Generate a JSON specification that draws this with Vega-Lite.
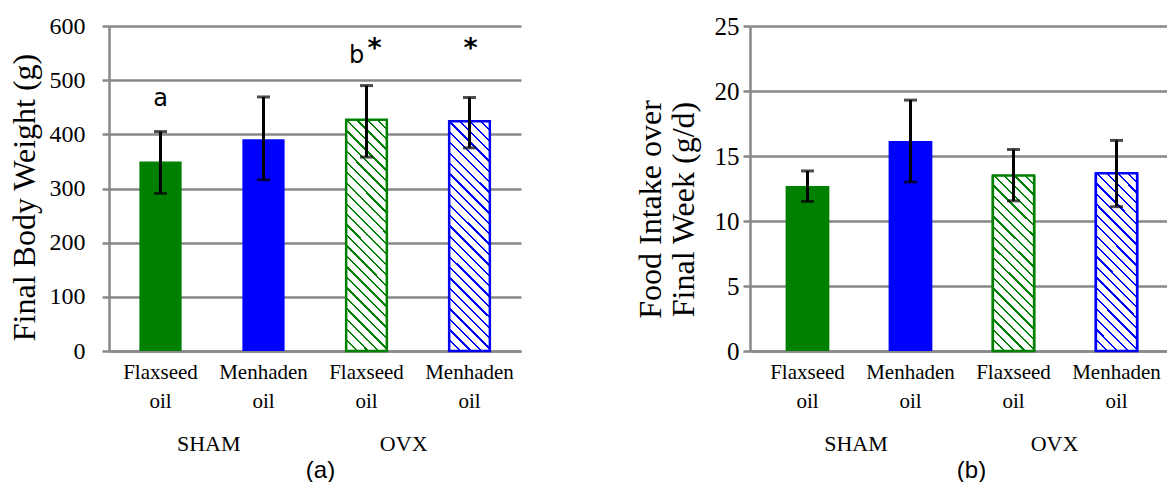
{
  "$schema": "https://vega.github.io/schema/vega-lite/v6.json",
  "background": "white",
  "padding": {"left": 8, "top": 14, "right": 0, "bottom": 0},
  "spacing": 113,
  "config": {
    "view": {"stroke": null},
    "font": "Liberation Serif",
    "axis": {"labelFont": "Liberation Serif", "labelColor": "black", "titleFont": "Liberation Serif", "titleColor": "black", "titleFontWeight": "normal"},
    "axisY": {"grid": true, "gridColor": "#888888", "gridWidth": 2.5, "domainColor": "#888888", "domainWidth": 2.5, "tickColor": "#888888", "tickWidth": 2.5, "tickSize": 7, "labelFontSize": 24, "labelAlign": "right", "labelBaseline": "middle", "titleFontSize": 32},
    "axisX": {"domainColor": "#888888", "domainWidth": 2.5, "ticks": false, "tickSize": 0, "grid": false, "labelFontSize": 21, "labelLineHeight": 29, "labelPadding": 10, "labelAngle": 0}
  },
  "datasets": {
    "bw": [
      {"cat": "SHAM|Flaxseed oil", "group": "SHAM", "oil": "Flaxseed", "mean": 350, "lo": 291, "hi": 405},
      {"cat": "SHAM|Menhaden oil", "group": "SHAM", "oil": "Menhaden", "mean": 391, "lo": 316, "hi": 469},
      {"cat": "OVX|Flaxseed oil", "group": "OVX", "oil": "Flaxseed", "mean": 427, "lo": 358, "hi": 490},
      {"cat": "OVX|Menhaden oil", "group": "OVX", "oil": "Menhaden", "mean": 424, "lo": 375, "hi": 468}
    ],
    "fi": [
      {"cat": "SHAM|Flaxseed oil", "group": "SHAM", "oil": "Flaxseed", "mean": 12.7, "lo": 11.5, "hi": 13.85},
      {"cat": "SHAM|Menhaden oil", "group": "SHAM", "oil": "Menhaden", "mean": 16.15, "lo": 13.0, "hi": 19.3},
      {"cat": "OVX|Flaxseed oil", "group": "OVX", "oil": "Flaxseed", "mean": 13.5, "lo": 11.55, "hi": 15.5},
      {"cat": "OVX|Menhaden oil", "group": "OVX", "oil": "Menhaden", "mean": 13.67, "lo": 11.1, "hi": 16.2}
    ],
    "ann": [
      {"cat": "SHAM|Flaxseed oil", "label": "a", "at": 452},
      {"cat": "OVX|Flaxseed oil", "label": "b", "at": 532},
      {"cat": "OVX|Flaxseed oil", "label": "*", "at": 543},
      {"cat": "OVX|Menhaden oil", "label": "*", "at": 543}
    ]
  },
  "hconcat": [
    {
      "width": 412,
      "height": 325,
      "layer": [
        {
          "data": {"name": "bw"},
          "encoding": {
            "x": {
              "field": "cat", "type": "nominal", "title": null,
              "sort": ["SHAM|Flaxseed oil", "SHAM|Menhaden oil", "OVX|Flaxseed oil", "OVX|Menhaden oil"],
              "scale": {"paddingInner": 0, "paddingOuter": 0},
              "axis": {"orient": "bottom", "labelExpr": "split(split(datum.label, '|')[1], ' ')"}
            }
          },
          "layer": [
            {
              "mark": {"type": "bar", "width": {"band": 0.41}},
              "encoding": {
                "y": {"field": "mean", "type": "quantitative", "title": "Final Body Weight (g)", "scale": {"domain": [0, 600], "nice": false},
                  "axis": {"values": [0, 100, 200, 300, 400, 500, 600], "labelPadding": 17, "labelAlign": "right", "titlePadding": 8, "titleY": 171}},
                "fill": {"field": "oil", "type": "nominal", "scale": {"domain": ["Flaxseed", "Menhaden"], "range": ["#008000", "#0000ff"]}, "legend": null}
              }
            },
            {
              "transform": [{"filter": "datum.group === 'OVX'"}],
              "mark": {"type": "bar", "width": {"band": 0.395}, "strokeWidth": 2.5,
                "fill": {"gradient": "linear", "x1": 1, "y1": 0, "x2": 0.7984, "y2": 1.1411, "stops": [
                  {"offset": 0, "color": "#fff"}, {"offset": 0.03, "color": "#fff"}, {"offset": 0.03, "color": "rgba(255,255,255,0)"}, {"offset": 0.0385, "color": "rgba(255,255,255,0)"},
                  {"offset": 0.0385, "color": "#fff"}, {"offset": 0.0685, "color": "#fff"}, {"offset": 0.0685, "color": "rgba(255,255,255,0)"}, {"offset": 0.0769, "color": "rgba(255,255,255,0)"},
                  {"offset": 0.0769, "color": "#fff"}, {"offset": 0.1069, "color": "#fff"}, {"offset": 0.1069, "color": "rgba(255,255,255,0)"}, {"offset": 0.1154, "color": "rgba(255,255,255,0)"},
                  {"offset": 0.1154, "color": "#fff"}, {"offset": 0.1454, "color": "#fff"}, {"offset": 0.1454, "color": "rgba(255,255,255,0)"}, {"offset": 0.1538, "color": "rgba(255,255,255,0)"},
                  {"offset": 0.1538, "color": "#fff"}, {"offset": 0.1838, "color": "#fff"}, {"offset": 0.1838, "color": "rgba(255,255,255,0)"}, {"offset": 0.1923, "color": "rgba(255,255,255,0)"},
                  {"offset": 0.1923, "color": "#fff"}, {"offset": 0.2223, "color": "#fff"}, {"offset": 0.2223, "color": "rgba(255,255,255,0)"}, {"offset": 0.2308, "color": "rgba(255,255,255,0)"},
                  {"offset": 0.2308, "color": "#fff"}, {"offset": 0.2608, "color": "#fff"}, {"offset": 0.2608, "color": "rgba(255,255,255,0)"}, {"offset": 0.2692, "color": "rgba(255,255,255,0)"},
                  {"offset": 0.2692, "color": "#fff"}, {"offset": 0.2992, "color": "#fff"}, {"offset": 0.2992, "color": "rgba(255,255,255,0)"}, {"offset": 0.3077, "color": "rgba(255,255,255,0)"},
                  {"offset": 0.3077, "color": "#fff"}, {"offset": 0.3377, "color": "#fff"}, {"offset": 0.3377, "color": "rgba(255,255,255,0)"}, {"offset": 0.3462, "color": "rgba(255,255,255,0)"},
                  {"offset": 0.3462, "color": "#fff"}, {"offset": 0.3762, "color": "#fff"}, {"offset": 0.3762, "color": "rgba(255,255,255,0)"}, {"offset": 0.3846, "color": "rgba(255,255,255,0)"},
                  {"offset": 0.3846, "color": "#fff"}, {"offset": 0.4146, "color": "#fff"}, {"offset": 0.4146, "color": "rgba(255,255,255,0)"}, {"offset": 0.4231, "color": "rgba(255,255,255,0)"},
                  {"offset": 0.4231, "color": "#fff"}, {"offset": 0.4531, "color": "#fff"}, {"offset": 0.4531, "color": "rgba(255,255,255,0)"}, {"offset": 0.4615, "color": "rgba(255,255,255,0)"},
                  {"offset": 0.4615, "color": "#fff"}, {"offset": 0.4915, "color": "#fff"}, {"offset": 0.4915, "color": "rgba(255,255,255,0)"}, {"offset": 0.5, "color": "rgba(255,255,255,0)"},
                  {"offset": 0.5, "color": "#fff"}, {"offset": 0.53, "color": "#fff"}, {"offset": 0.53, "color": "rgba(255,255,255,0)"}, {"offset": 0.5385, "color": "rgba(255,255,255,0)"},
                  {"offset": 0.5385, "color": "#fff"}, {"offset": 0.5685, "color": "#fff"}, {"offset": 0.5685, "color": "rgba(255,255,255,0)"}, {"offset": 0.5769, "color": "rgba(255,255,255,0)"},
                  {"offset": 0.5769, "color": "#fff"}, {"offset": 0.6069, "color": "#fff"}, {"offset": 0.6069, "color": "rgba(255,255,255,0)"}, {"offset": 0.6154, "color": "rgba(255,255,255,0)"},
                  {"offset": 0.6154, "color": "#fff"}, {"offset": 0.6454, "color": "#fff"}, {"offset": 0.6454, "color": "rgba(255,255,255,0)"}, {"offset": 0.6538, "color": "rgba(255,255,255,0)"},
                  {"offset": 0.6538, "color": "#fff"}, {"offset": 0.6838, "color": "#fff"}, {"offset": 0.6838, "color": "rgba(255,255,255,0)"}, {"offset": 0.6923, "color": "rgba(255,255,255,0)"},
                  {"offset": 0.6923, "color": "#fff"}, {"offset": 0.7223, "color": "#fff"}, {"offset": 0.7223, "color": "rgba(255,255,255,0)"}, {"offset": 0.7308, "color": "rgba(255,255,255,0)"},
                  {"offset": 0.7308, "color": "#fff"}, {"offset": 0.7608, "color": "#fff"}, {"offset": 0.7608, "color": "rgba(255,255,255,0)"}, {"offset": 0.7692, "color": "rgba(255,255,255,0)"},
                  {"offset": 0.7692, "color": "#fff"}, {"offset": 0.7992, "color": "#fff"}, {"offset": 0.7992, "color": "rgba(255,255,255,0)"}, {"offset": 0.8077, "color": "rgba(255,255,255,0)"},
                  {"offset": 0.8077, "color": "#fff"}, {"offset": 0.8377, "color": "#fff"}, {"offset": 0.8377, "color": "rgba(255,255,255,0)"}, {"offset": 0.8462, "color": "rgba(255,255,255,0)"},
                  {"offset": 0.8462, "color": "#fff"}, {"offset": 0.8762, "color": "#fff"}, {"offset": 0.8762, "color": "rgba(255,255,255,0)"}, {"offset": 0.8846, "color": "rgba(255,255,255,0)"},
                  {"offset": 0.8846, "color": "#fff"}, {"offset": 0.9146, "color": "#fff"}, {"offset": 0.9146, "color": "rgba(255,255,255,0)"}, {"offset": 0.9231, "color": "rgba(255,255,255,0)"},
                  {"offset": 0.9231, "color": "#fff"}, {"offset": 0.9531, "color": "#fff"}, {"offset": 0.9531, "color": "rgba(255,255,255,0)"}, {"offset": 0.9615, "color": "rgba(255,255,255,0)"},
                  {"offset": 0.9615, "color": "#fff"}, {"offset": 0.9915, "color": "#fff"}, {"offset": 0.9915, "color": "rgba(255,255,255,0)"}, {"offset": 1, "color": "rgba(255,255,255,0)"}
                ]}},
              "encoding": {
                "y": {"field": "mean", "type": "quantitative", "title": "Final Body Weight (g)", "axis": {"labelPadding": 17, "labelAlign": "right"}},
                "stroke": {"field": "oil", "type": "nominal", "scale": {"domain": ["Flaxseed", "Menhaden"], "range": ["#008000", "#0000ff"]}, "legend": null}
              }
            },
            {
              "mark": {"type": "rule", "color": "black", "strokeWidth": 3},
              "encoding": {"y": {"field": "lo", "type": "quantitative", "title": "Final Body Weight (g)", "axis": {"labelPadding": 17, "labelAlign": "right"}}, "y2": {"field": "hi"}}
            },
            {
              "mark": {"type": "tick", "color": "black", "size": 13, "thickness": 3},
              "encoding": {"y": {"field": "lo", "type": "quantitative", "title": "Final Body Weight (g)", "axis": {"labelPadding": 17, "labelAlign": "right"}}}
            },
            {
              "mark": {"type": "tick", "color": "black", "size": 13, "thickness": 3},
              "encoding": {"y": {"field": "hi", "type": "quantitative", "title": "Final Body Weight (g)", "axis": {"labelPadding": 17, "labelAlign": "right"}}}
            },
            {
              "data": {"name": "ann"},
              "transform": [{"filter": "datum.label === 'a'"}],
              "mark": {"type": "text", "font": "DejaVu Sans", "fontSize": 24, "baseline": "alphabetic", "align": "center", "color": "black"},
              "encoding": {"y": {"field": "at", "type": "quantitative", "title": "Final Body Weight (g)", "axis": {"labelPadding": 17, "labelAlign": "right"}}, "text": {"field": "label"}}
            },
            {
              "data": {"name": "ann"},
              "transform": [{"filter": "datum.label === 'b'"}],
              "mark": {"type": "text", "font": "DejaVu Sans", "fontSize": 24, "baseline": "alphabetic", "align": "center", "dx": -10, "color": "black"},
              "encoding": {"y": {"field": "at", "type": "quantitative", "title": "Final Body Weight (g)", "axis": {"labelPadding": 17, "labelAlign": "right"}}, "text": {"field": "label"}}
            },
            {
              "data": {"name": "ann"},
              "transform": [{"filter": "datum.label === '*' && datum.cat === 'OVX|Flaxseed oil'"}],
              "mark": {"type": "text", "font": "DejaVu Sans", "fontWeight": "bold", "fontSize": 27, "baseline": "alphabetic", "align": "center", "dx": 8, "color": "black"},
              "encoding": {"y": {"field": "at", "type": "quantitative", "title": "Final Body Weight (g)", "axis": {"labelPadding": 17, "labelAlign": "right"}}, "text": {"field": "label"}}
            },
            {
              "data": {"name": "ann"},
              "transform": [{"filter": "datum.label === '*' && datum.cat === 'OVX|Menhaden oil'"}],
              "mark": {"type": "text", "font": "DejaVu Sans", "fontWeight": "bold", "fontSize": 27, "baseline": "alphabetic", "align": "center", "dx": 1, "color": "black"},
              "encoding": {"y": {"field": "at", "type": "quantitative", "title": "Final Body Weight (g)", "axis": {"labelPadding": 17, "labelAlign": "right"}}, "text": {"field": "label"}}
            }
          ]
        },
        {
          "data": {"name": "bw"},
          "mark": {"type": "rule", "opacity": 0},
          "encoding": {
            "x": {"field": "group", "type": "nominal", "sort": ["SHAM", "OVX"], "title": "(a)",
              "scale": {"paddingInner": 0, "paddingOuter": 0.0564, "align": 0.1},
              "axis": {"orient": "bottom", "domain": false, "ticks": false, "grid": false, "labelPadding": 82, "labelFont": "Liberation Serif", "labelFontSize": 22, "labelColor": "black", "labelAngle": 0, "titleFont": "Liberation Sans", "titleFontSize": 24, "titleFontWeight": "normal", "titleColor": "black", "titlePadding": 4, "titleX": 211}}
          }
        }
      ],
      "resolve": {"scale": {"x": "independent"}}
    },
    {
      "width": 418,
      "height": 325,
      "layer": [
        {
          "data": {"name": "fi"},
          "encoding": {
            "x": {
              "field": "cat", "type": "nominal", "title": null,
              "sort": ["SHAM|Flaxseed oil", "SHAM|Menhaden oil", "OVX|Flaxseed oil", "OVX|Menhaden oil"],
              "scale": {"paddingInner": 0, "paddingOuter": 0.029, "align": 1},
              "axis": {"orient": "bottom", "labelExpr": "split(split(datum.label, '|')[1], ' ')"}
            }
          },
          "layer": [
            {
              "mark": {"type": "bar", "width": {"band": 0.425}},
              "encoding": {
                "y": {"field": "mean", "type": "quantitative", "title": ["Food Intake over", "Final Week (g/d)"], "scale": {"domain": [0, 25], "nice": false},
                  "axis": {"values": [0, 5, 10, 15, 20, 25], "labelPadding": 4, "labelAlign": "right", "labelFontSize": 25, "titleLineHeight": 33, "titlePadding": 14, "titleY": 183}},
                "fill": {"field": "oil", "type": "nominal", "scale": {"domain": ["Flaxseed", "Menhaden"], "range": ["#008000", "#0000ff"]}, "legend": null}
              }
            },
            {
              "transform": [{"filter": "datum.group === 'OVX'"}],
              "mark": {"type": "bar", "width": {"band": 0.4}, "strokeWidth": 2.5,
                "fill": {"gradient": "linear", "x1": 1, "y1": 0, "x2": 0.7271, "y2": 1.1697, "stops": [
                  {"offset": 0, "color": "#fff"}, {"offset": 0.0371, "color": "#fff"}, {"offset": 0.0371, "color": "rgba(255,255,255,0)"}, {"offset": 0.0476, "color": "rgba(255,255,255,0)"},
                  {"offset": 0.0476, "color": "#fff"}, {"offset": 0.0848, "color": "#fff"}, {"offset": 0.0848, "color": "rgba(255,255,255,0)"}, {"offset": 0.0952, "color": "rgba(255,255,255,0)"},
                  {"offset": 0.0952, "color": "#fff"}, {"offset": 0.1324, "color": "#fff"}, {"offset": 0.1324, "color": "rgba(255,255,255,0)"}, {"offset": 0.1429, "color": "rgba(255,255,255,0)"},
                  {"offset": 0.1429, "color": "#fff"}, {"offset": 0.18, "color": "#fff"}, {"offset": 0.18, "color": "rgba(255,255,255,0)"}, {"offset": 0.1905, "color": "rgba(255,255,255,0)"},
                  {"offset": 0.1905, "color": "#fff"}, {"offset": 0.2276, "color": "#fff"}, {"offset": 0.2276, "color": "rgba(255,255,255,0)"}, {"offset": 0.2381, "color": "rgba(255,255,255,0)"},
                  {"offset": 0.2381, "color": "#fff"}, {"offset": 0.2752, "color": "#fff"}, {"offset": 0.2752, "color": "rgba(255,255,255,0)"}, {"offset": 0.2857, "color": "rgba(255,255,255,0)"},
                  {"offset": 0.2857, "color": "#fff"}, {"offset": 0.3229, "color": "#fff"}, {"offset": 0.3229, "color": "rgba(255,255,255,0)"}, {"offset": 0.3333, "color": "rgba(255,255,255,0)"},
                  {"offset": 0.3333, "color": "#fff"}, {"offset": 0.3705, "color": "#fff"}, {"offset": 0.3705, "color": "rgba(255,255,255,0)"}, {"offset": 0.381, "color": "rgba(255,255,255,0)"},
                  {"offset": 0.381, "color": "#fff"}, {"offset": 0.4181, "color": "#fff"}, {"offset": 0.4181, "color": "rgba(255,255,255,0)"}, {"offset": 0.4286, "color": "rgba(255,255,255,0)"},
                  {"offset": 0.4286, "color": "#fff"}, {"offset": 0.4657, "color": "#fff"}, {"offset": 0.4657, "color": "rgba(255,255,255,0)"}, {"offset": 0.4762, "color": "rgba(255,255,255,0)"},
                  {"offset": 0.4762, "color": "#fff"}, {"offset": 0.5133, "color": "#fff"}, {"offset": 0.5133, "color": "rgba(255,255,255,0)"}, {"offset": 0.5238, "color": "rgba(255,255,255,0)"},
                  {"offset": 0.5238, "color": "#fff"}, {"offset": 0.561, "color": "#fff"}, {"offset": 0.561, "color": "rgba(255,255,255,0)"}, {"offset": 0.5714, "color": "rgba(255,255,255,0)"},
                  {"offset": 0.5714, "color": "#fff"}, {"offset": 0.6086, "color": "#fff"}, {"offset": 0.6086, "color": "rgba(255,255,255,0)"}, {"offset": 0.619, "color": "rgba(255,255,255,0)"},
                  {"offset": 0.619, "color": "#fff"}, {"offset": 0.6562, "color": "#fff"}, {"offset": 0.6562, "color": "rgba(255,255,255,0)"}, {"offset": 0.6667, "color": "rgba(255,255,255,0)"},
                  {"offset": 0.6667, "color": "#fff"}, {"offset": 0.7038, "color": "#fff"}, {"offset": 0.7038, "color": "rgba(255,255,255,0)"}, {"offset": 0.7143, "color": "rgba(255,255,255,0)"},
                  {"offset": 0.7143, "color": "#fff"}, {"offset": 0.7514, "color": "#fff"}, {"offset": 0.7514, "color": "rgba(255,255,255,0)"}, {"offset": 0.7619, "color": "rgba(255,255,255,0)"},
                  {"offset": 0.7619, "color": "#fff"}, {"offset": 0.7991, "color": "#fff"}, {"offset": 0.7991, "color": "rgba(255,255,255,0)"}, {"offset": 0.8095, "color": "rgba(255,255,255,0)"},
                  {"offset": 0.8095, "color": "#fff"}, {"offset": 0.8467, "color": "#fff"}, {"offset": 0.8467, "color": "rgba(255,255,255,0)"}, {"offset": 0.8571, "color": "rgba(255,255,255,0)"},
                  {"offset": 0.8571, "color": "#fff"}, {"offset": 0.8943, "color": "#fff"}, {"offset": 0.8943, "color": "rgba(255,255,255,0)"}, {"offset": 0.9048, "color": "rgba(255,255,255,0)"},
                  {"offset": 0.9048, "color": "#fff"}, {"offset": 0.9419, "color": "#fff"}, {"offset": 0.9419, "color": "rgba(255,255,255,0)"}, {"offset": 0.9524, "color": "rgba(255,255,255,0)"},
                  {"offset": 0.9524, "color": "#fff"}, {"offset": 0.9895, "color": "#fff"}, {"offset": 0.9895, "color": "rgba(255,255,255,0)"}, {"offset": 1, "color": "rgba(255,255,255,0)"}
                ]}},
              "encoding": {
                "y": {"field": "mean", "type": "quantitative", "title": ["Food Intake over", "Final Week (g/d)"], "axis": {"labelPadding": 4, "labelAlign": "right", "labelFontSize": 25}},
                "stroke": {"field": "oil", "type": "nominal", "scale": {"domain": ["Flaxseed", "Menhaden"], "range": ["#008000", "#0000ff"]}, "legend": null}
              }
            },
            {
              "mark": {"type": "rule", "color": "black", "strokeWidth": 3},
              "encoding": {"y": {"field": "lo", "type": "quantitative", "title": ["Food Intake over", "Final Week (g/d)"], "axis": {"labelPadding": 4, "labelAlign": "right", "labelFontSize": 25}}, "y2": {"field": "hi"}}
            },
            {
              "mark": {"type": "tick", "color": "black", "size": 13, "thickness": 3},
              "encoding": {"y": {"field": "lo", "type": "quantitative", "title": ["Food Intake over", "Final Week (g/d)"], "axis": {"labelPadding": 4, "labelAlign": "right", "labelFontSize": 25}}}
            },
            {
              "mark": {"type": "tick", "color": "black", "size": 13, "thickness": 3},
              "encoding": {"y": {"field": "hi", "type": "quantitative", "title": ["Food Intake over", "Final Week (g/d)"], "axis": {"labelPadding": 4, "labelAlign": "right", "labelFontSize": 25}}}
            }
          ]
        },
        {
          "data": {"name": "fi"},
          "mark": {"type": "rule", "opacity": 0},
          "encoding": {
            "x": {"field": "group", "type": "nominal", "sort": ["SHAM", "OVX"], "title": "(b)",
              "scale": {"paddingInner": 0, "paddingOuter": 0.0529, "align": 0.32},
              "axis": {"orient": "bottom", "domain": false, "ticks": false, "grid": false, "labelPadding": 82, "labelFont": "Liberation Serif", "labelFontSize": 22, "labelColor": "black", "labelAngle": 0, "titleFont": "Liberation Sans", "titleFontSize": 24, "titleFontWeight": "normal", "titleColor": "black", "titlePadding": 4, "titleX": 221}}
          }
        }
      ],
      "resolve": {"scale": {"x": "independent"}}
    }
  ]
}
